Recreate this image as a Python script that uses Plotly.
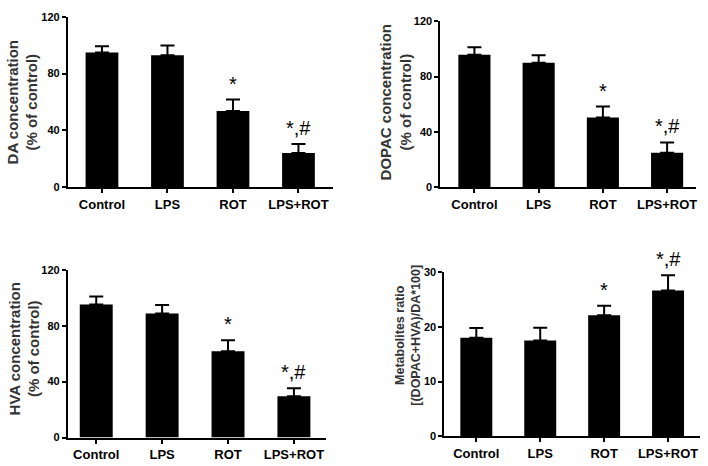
import plotly.graph_objects as go

# groups on every panel
groups = ["Control", "LPS", "ROT", "LPS+ROT"]

# DA concentration (% of control)
da_mean = [94.8, 92.8, 53.7, 24.0]
da_err = [4.5, 7.0, 8.0, 6.4]

# DOPAC concentration (% of control)
dopac_mean = [95.8, 90.0, 50.5, 24.9]
dopac_err = [5.5, 5.4, 7.8, 7.5]

# HVA concentration (% of control)
hva_mean = [95.2, 88.7, 61.8, 29.5]
hva_err = [5.6, 6.0, 7.8, 5.8]

# metabolites ratio [(DOPAC+HVA)/DA*100]
ratio_mean = [18.0, 17.5, 22.1, 26.6]
ratio_err = [1.75, 2.3, 1.75, 2.8]

# significance marks
marks = ["", "", "*", "*,#"]

FONT = "Arial, Liberation Sans, sans-serif"

panels = [
    # means, errors, y max, y tick step, x domain (px), y domain (px top, px bottom), x range
    (da_mean, da_err, 120, 40, (68, 333), (11, 186), [-0.52, 3.52]),
    (dopac_mean, dopac_err, 120, 40, (441, 697), (15.7, 186), [-0.53, 3.45]),
    (hva_mean, hva_err, 120, 40, (68, 326), (270.7, 443), [-0.43, 3.48]),
    (ratio_mean, ratio_err, 30, 10, (445, 701), (273, 441.7), [-0.5, 3.5]),
]

W, H = 708, 466
fig = go.Figure()
annotations = []

for i, (mean, err, ymax, step, xd, yd, xr) in enumerate(panels):
    n = "" if i == 0 else str(i + 1)
    fig.add_trace(go.Bar(
        x=groups, y=mean, width=0.5,
        marker=dict(color="black", line=dict(width=0)),
        error_y=dict(type="data", array=err, arrayminus=[0] * 4, symmetric=False,
                     color="black", thickness=2, width=7),
        xaxis="x" + n, yaxis="y" + n, showlegend=False,
    ))
    fig.layout["xaxis" + n] = dict(
        domain=[xd[0] / W, xd[1] / W], range=xr, anchor="y" + n,
        showline=True, linecolor="black", linewidth=2,
        ticks="outside", ticklen=4, tickwidth=1.5, tickcolor="black",
        tickfont=dict(family=FONT, size=13, color="black", weight="bold"),
        showgrid=False, zeroline=False,
    )
    fig.layout["yaxis" + n] = dict(
        domain=[(H - yd[1]) / H, (H - yd[0]) / H], range=[0, ymax], anchor="x" + n,
        tickvals=list(range(0, ymax + 1, step)),
        showline=True, linecolor="black", linewidth=2,
        ticks="outside", ticklen=4, tickwidth=1.5, tickcolor="black",
        tickfont=dict(family=FONT, size=11, color="black", weight="bold"),
        showgrid=False, zeroline=False,
    )
    for g, m, e, t in zip(groups, mean, err, marks):
        if t:
            annotations.append(dict(
                x=g, y=m + e, xref="x" + n, yref="y" + n, text=t,
                showarrow=False, yanchor="bottom", yshift=3,
                font=dict(family=FONT, size=20, color="black"),
            ))

titles = [
    ("DA concentration<br>(% of control)", 22.5, 98.5, 15),
    ("DOPAC concentration<br>(% of control)", 396.5, 99, 15),
    ("HVA concentration<br>(% of control)", 24, 351.5, 15),
    ("Metabolites ratio<br>[(DOPAC+HVA)/DA*100]", 409, 338, 12.5),
]
for text, px, py, size in titles:
    annotations.append(dict(
        x=px / W, y=(H - py) / H, xref="paper", yref="paper", text=text,
        textangle=-90, showarrow=False, xanchor="center", yanchor="middle",
        font=dict(family=FONT, size=size, color="#333333", weight="bold"),
    ))

fig.update_layout(
    width=W, height=H, margin=dict(l=0, r=0, t=0, b=0),
    paper_bgcolor="white", plot_bgcolor="white",
    annotations=annotations,
)
fig.write_html("out.html", config={"displayModeBar": False},
               post_script="document.body.style.margin='0';")
